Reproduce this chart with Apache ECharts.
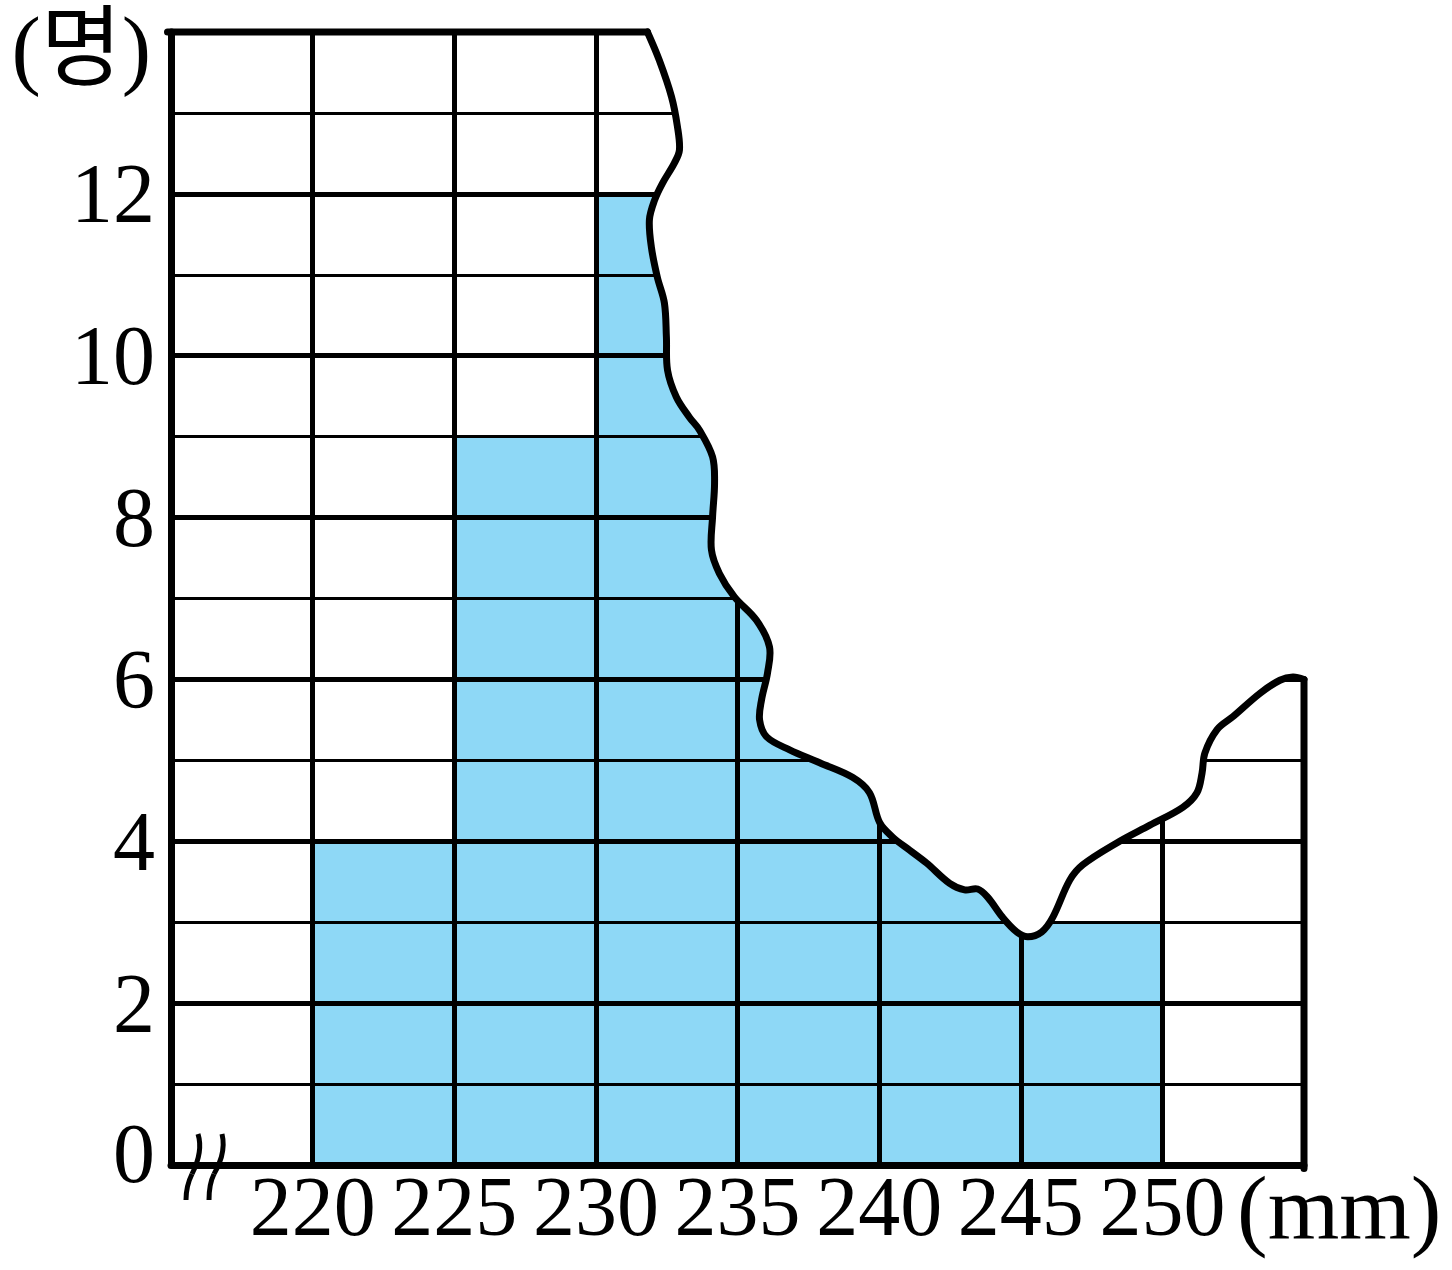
<!DOCTYPE html>
<html>
<head>
<meta charset="utf-8">
<script src="https://cdn.jsdelivr.net/npm/echarts@6/dist/echarts.min.js"></script>
<style>
html,body{margin:0;padding:0;background:#fff;}
#c{width:1452px;height:1270px;}
</style>
</head>
<body>
<div id="c"></div>
<script>
// ---- data ----
const xTickLabels = [220, 225, 230, 235, 240, 245, 250];
const binStarts = [220, 225, 230, 235, 240, 245];
const counts = [4, 9, 12, 8, 5, 3];
const yTickLabels = [0, 2, 4, 6, 8, 10, 12];
const binWidth = 5;
// torn-paper edge, in data units (mm, persons)
const tearX = [231.82,232.24,232.67,232.88,232.95,232.77,232.35,232.07,231.89,231.96,232.17,232.42,232.49,232.53,232.84,233.30,233.66,234.12,234.19,234.12,234.08,234.36,234.89,235.67,236.13,236.06,235.85,235.78,236.03,236.84,237.90,239.06,239.66,240.02,240.48,241.08,241.68,242.49,243.02,243.48,243.83,244.36,244.86,245.25,245.74,246.13,246.73,247.19,248.39,249.56,250.72,251.22,251.40,251.50,251.93,252.49,253.45,254.15,254.61,255.0];
const tearY = [14.0,13.65,13.20,12.83,12.54,12.38,12.13,11.92,11.68,11.34,10.97,10.65,10.23,9.82,9.49,9.24,9.08,8.75,8.43,8.01,7.60,7.31,7.02,6.73,6.40,6.08,5.75,5.50,5.29,5.13,4.97,4.79,4.60,4.23,4.05,3.89,3.73,3.48,3.40,3.41,3.31,3.06,2.88,2.82,2.88,3.06,3.52,3.71,3.98,4.20,4.42,4.60,4.84,5.09,5.38,5.54,5.83,5.99,6.03,6.0];

const FONT = '"Liberation Serif", "DejaVu Serif", "Noto Sans CJK KR", serif';
const FILL = '#8ed8f6';
const BORDER = 7, MAJOR = 5, MINOR = 3;

const chart = echarts.init(document.getElementById('c'), null, {renderer: 'svg'});
const option = {
  animation: false,
  backgroundColor: '#fff',
  grid: {left: 171, right: 148, top: 32, bottom: 105, outerBoundsMode: 'none'},
  xAxis: {
    type: 'value', min: 215, max: 255, interval: binWidth, z: 3,
    axisLine: {show: true, onZero: false, lineStyle: {color: '#000', width: BORDER}},
    axisTick: {show: false},
    splitLine: {show: true, lineStyle: {color: '#000', width: MAJOR}},
    axisLabel: {
      margin: -1, fontSize: 84, color: '#000', fontFamily: FONT,
      formatter: v => xTickLabels.includes(v) ? String(v) : ''
    },
    name: '(mm)', nameLocation: 'end', nameGap: -67, nameMoveOverlap: false,
    nameTextStyle: {fontSize: 92, lineHeight: 86, color: '#000', fontFamily: FONT, align: 'left', verticalAlign: 'top', padding: [0, 0, 0, 0]}
  },
  yAxis: {
    type: 'value', min: 0, max: 14, interval: 2, z: 3,
    axisLine: {show: true, lineStyle: {color: '#000', width: BORDER}},
    axisTick: {show: false},
    splitLine: {show: true, lineStyle: {color: '#000', width: MAJOR}},
    minorTick: {show: false, splitNumber: 2},
    minorSplitLine: {show: true, lineStyle: {color: '#000', width: MINOR}},
    axisLabel: {
      margin: 16, fontSize: 84, color: '#000', fontFamily: FONT,
      formatter: v => v === 0 ? '{z|0}' : (yTickLabels.includes(v) ? String(v) : ''),
      rich: {z: {fontSize: 84, color: '#000', fontFamily: FONT, padding: [0, 0, 24, 0]}}
    },
    name: '(명)', nameLocation: 'end', nameGap: -16, nameMoveOverlap: false,
    nameTextStyle: {fontSize: 88, color: '#000', fontFamily: FONT, align: 'right', verticalAlign: 'middle', padding: [0, 20, 0, 0]}
  },
  graphic: [
    {type: 'bezierCurve', z: 10, shape: {x1: 198, y1: 1134, cpx1: 203, cpy1: 1150, cpx2: 196, cpy2: 1166, x2: 192, y2: 1174}, style: {stroke: '#000', lineWidth: 5, fill: null}},
    {type: 'bezierCurve', z: 10, shape: {x1: 192, y1: 1174, cpx1: 188, cpy1: 1182, cpx2: 186, cpy2: 1192, x2: 186, y2: 1200}, style: {stroke: '#000', lineWidth: 5, fill: null}},
    {type: 'bezierCurve', z: 10, shape: {x1: 222, y1: 1134, cpx1: 226, cpy1: 1150, cpx2: 219, cpy2: 1166, x2: 214, y2: 1174}, style: {stroke: '#000', lineWidth: 5, fill: null}},
    {type: 'bezierCurve', z: 10, shape: {x1: 214, y1: 1174, cpx1: 210, cpy1: 1182, cpx2: 209, cpy2: 1192, x2: 209, y2: 1200}, style: {stroke: '#000', lineWidth: 5, fill: null}}
  ],
  series: [
    {
      type: 'custom', z: 2, clip: false,
      data: binStarts.map((x, i) => [x, counts[i]]),
      encode: {x: 0, y: 1},
      renderItem: (params, api) => {
        const x0 = api.value(0), h = api.value(1);
        const p0 = api.coord([x0, h]);
        const p1 = api.coord([x0 + binWidth, 0]);
        return {type: 'rect', shape: {x: p0[0], y: p0[1], width: p1[0] - p0[0], height: p1[1] - p0[1]}, style: {fill: FILL}};
      }
    },
    {
      type: 'custom', z: 4, clip: false, silent: true,
      data: [[215, 0]],
      encode: {x: 0, y: 1},
      renderItem: (params, api) => {
        const pts = tearX.map((x, i) => api.coord([x, tearY[i]]));
        const first = pts[0], last = pts[pts.length - 1];
        const poly = pts.concat([[last[0] + 20, last[1]], [last[0] + 20, first[1] - 20], [first[0], first[1] - 20]]);
        const tl = api.coord([215, 14]);
        const br = api.coord([255, 0]);
        return {
          type: 'group',
          children: [
            {type: 'polygon', z2: 1, shape: {points: poly, smooth: 0.35, smoothConstraint: false}, style: {fill: '#fff', stroke: '#fff', lineWidth: 2}},
            {type: 'polyline', z2: 2, shape: {points: pts, smooth: 0.35, smoothConstraint: false}, style: {fill: null, stroke: '#000', lineWidth: 7, lineJoin: 'round', lineCap: 'round'}},
            {type: 'polyline', z2: 3, shape: {points: [[tl[0] - 3.5, tl[1]], first]}, style: {fill: null, stroke: '#000', lineWidth: BORDER, lineCap: 'round'}},
            {type: 'polyline', z2: 3, shape: {points: [last, [br[0], br[1] + 3.5]]}, style: {fill: null, stroke: '#000', lineWidth: BORDER, lineCap: 'round'}}
          ]
        };
      }
    }
  ]
};
chart.setOption(option);
</script>
</body>
</html>
